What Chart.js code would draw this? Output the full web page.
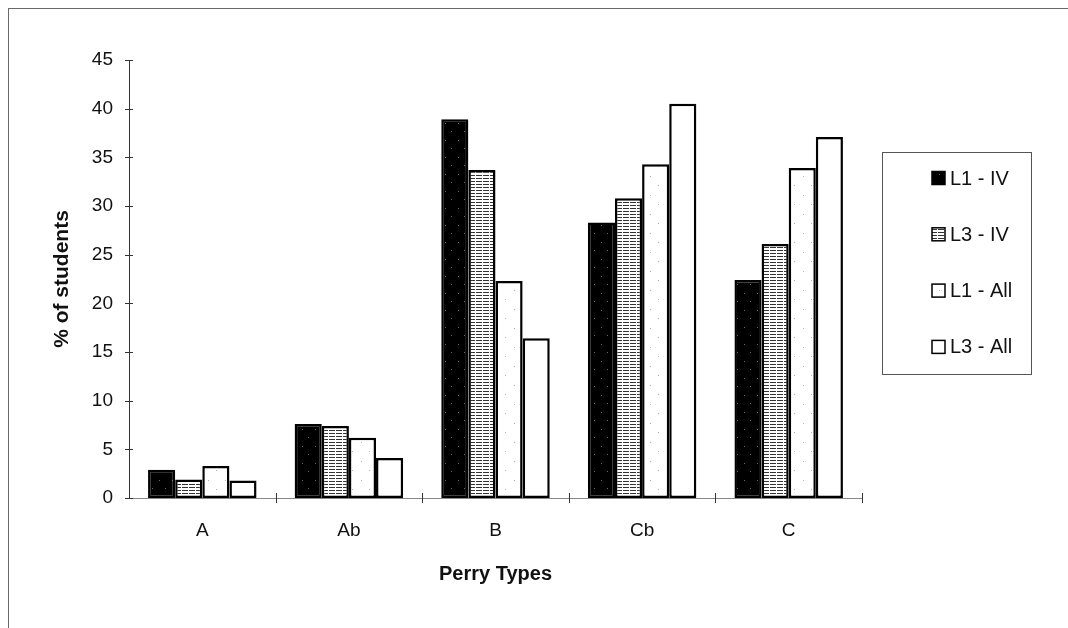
<!DOCTYPE html>
<html>
<head>
<meta charset="utf-8">
<script src="https://cdn.jsdelivr.net/npm/chart.js@4.4.1/dist/chart.umd.min.js"></script>
<style>
  html, body { margin: 0; padding: 0; background: #fff; }
  #wrap { position: relative; width: 1068px; height: 628px; overflow: hidden; }
  #chart { position: absolute; left: 0; top: 0; }
  #frame { position: absolute; left: 8px; top: 8px; right: 0; bottom: 0;
           border-top: 1px solid #6a6a6a; border-left: 1px solid #6a6a6a; pointer-events: none; }
</style>
</head>
<body>
<div id="wrap">
  <canvas id="chart" width="1068" height="628"></canvas>
  <div id="frame"></div>
</div>
<script>
// Perry type distribution, percent of students per group
const categories = ['A', 'Ab', 'B', 'Cb', 'C'];
const seriesNames = ['L1 - IV', 'L3 - IV', 'L1 - All', 'L3 - All'];
const l1IV  = [2.9, 7.6, 38.9, 28.3, 22.4];
const l3IV  = [1.9, 7.4, 33.7, 30.8, 26.1];
const l1All = [3.3, 6.2, 22.3, 34.3, 33.9];
const l3All = [1.8, 4.1, 16.4, 40.5, 37.1];
const yTickValues = [0, 5, 10, 15, 20, 25, 30, 35, 40, 45];

const FONT = '"Liberation Sans", Arial, Helvetica, sans-serif';
const canvas = document.getElementById('chart');
const ctx = canvas.getContext('2d');

// Fill textures for the four series
function makePattern(w, h, bg, paint) {
  const c = document.createElement('canvas');
  c.width = w; c.height = h;
  const g = c.getContext('2d');
  g.fillStyle = bg;
  g.fillRect(0, 0, w, h);
  paint(g);
  return ctx.createPattern(c, 'repeat');
}
const solidDark = makePattern(13, 17, '#000', g => {
  g.fillStyle = '#6a6a6a';
  g.fillRect(3, 4, 1, 1);
  g.fillRect(9, 12, 1, 1);
});
const hLines = makePattern(7, 3, '#fff', g => {
  g.fillStyle = '#333';
  g.fillRect(0, 1, 6, 1);
});
const sparseDots = makePattern(17, 19, '#fff', g => {
  g.fillStyle = '#b0b0b0';
  g.fillRect(4, 5, 1, 1);
  g.fillRect(12, 14, 1, 1);
});
const plainWhite = '#fff';
const fills = [solidDark, hLines, sparseDots, plainWhite];
const seriesValues = [l1IV, l3IV, l1All, l3All];

// Crossing tick marks on both axes
const axisDecor = {
  id: 'axisDecor',
  afterDraw(chart) {
    const c = chart.ctx;
    const y = chart.scales.y;
    const area = chart.chartArea;
    c.save();
    c.strokeStyle = '#333';
    c.lineWidth = 1;
    yTickValues.forEach(v => {
      const py = Math.round(y.getPixelForValue(v)) + 0.5;
      c.beginPath();
      c.moveTo(area.left - 4, py);
      c.lineTo(area.left + 4, py);
      c.stroke();
    });
    const n = categories.length;
    const step = (area.right - area.left) / n;
    for (let i = 1; i <= n; i++) {
      const px = Math.round(area.left + i * step) + 0.5;
      c.beginPath();
      c.moveTo(px, area.bottom - 5);
      c.lineTo(px, area.bottom + 5);
      c.stroke();
    }
    c.restore();
  }
};

// Boxed legend to the right of the plot
const boxedLegend = {
  id: 'boxedLegend',
  afterDraw(chart) {
    const c = chart.ctx;
    const box = { left: 882, top: 152, right: 1031, bottom: 374 };
    c.save();
    c.strokeStyle = '#555';
    c.lineWidth = 1;
    c.strokeRect(box.left + 0.5, box.top + 0.5, box.right - box.left, box.bottom - box.top);
    const firstY = 178, gap = 56.3;
    c.font = '20px ' + FONT;
    c.textBaseline = 'middle';
    c.textAlign = 'left';
    chart.data.datasets.forEach((ds, i) => {
      const cy = firstY + i * gap;
      const sx = 932, size = 13;
      c.fillStyle = ds.backgroundColor;
      c.fillRect(sx, cy - size / 2, size, size);
      c.strokeStyle = '#000';
      c.lineWidth = 1.5;
      c.strokeRect(sx, cy - size / 2, size, size);
      c.fillStyle = '#111';
      c.fillText(ds.label, 950, cy + 1);
    });
    c.restore();
  }
};

new Chart(ctx, {
  type: 'bar',
  data: {
    labels: categories,
    datasets: seriesNames.map((name, i) => ({
      label: name,
      data: seriesValues[i],
      backgroundColor: fills[i],
      borderColor: '#000',
      borderWidth: 2.5,
      borderSkipped: false,
      categoryPercentage: 0.74,
      barPercentage: 1.0
    }))
  },
  options: {
    responsive: false,
    devicePixelRatio: 1,
    animation: false,
    layout: { padding: { left: 0, top: 60, right: 206, bottom: 0 } },
    plugins: { legend: { display: false }, tooltip: { enabled: false } },
    scales: {
      x: {
        grid: { display: false, drawTicks: false },
        border: { display: true, color: '#888', width: 1 },
        ticks: { color: '#111', padding: 21, font: { family: FONT, size: 19 } },
        title: {
          display: true, text: 'Perry Types', color: '#111',
          font: { family: FONT, size: 20, weight: 'bold' },
          padding: { top: 0, bottom: 42 }
        },
        afterFit(scale) { scale.height = 130; }
      },
      y: {
        min: 0, max: 45,
        grid: { display: false, drawTicks: false },
        border: { display: true, color: '#333', width: 1 },
        ticks: {
          stepSize: 5, autoSkip: false, padding: 16, color: '#111',
          font: { family: FONT, size: 19 }
        },
        title: {
          display: true, text: '% of students', color: '#111',
          font: { family: FONT, size: 21, weight: 'bold' },
          padding: { top: 50, bottom: 0 }
        },
        afterFit(scale) { scale.width = 129; }
      }
    }
  },
  plugins: [axisDecor, boxedLegend]
});
</script>
</body>
</html>
